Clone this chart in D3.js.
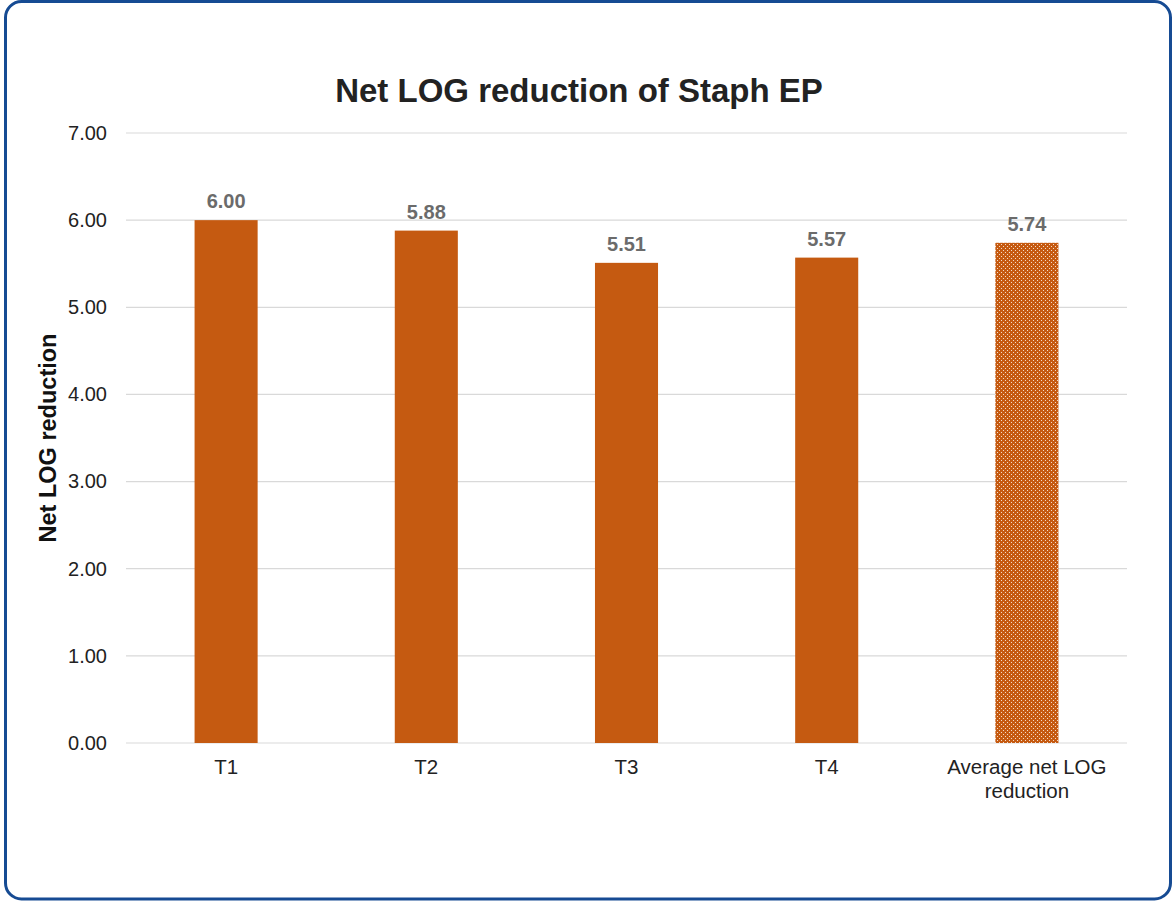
<!DOCTYPE html>
<html>
<head>
<meta charset="utf-8">
<script src="https://cdn.jsdelivr.net/npm/d3@7"></script>
<style>
  html, body { margin: 0; padding: 0; background: #fff; }
  svg { display: block; font-family: "Liberation Sans", Arial, sans-serif; }
</style>
</head>
<body>
<svg id="chart" width="1173" height="902"></svg>
<script>
// Net LOG reduction per test, plus the average
const categories = ["T1", "T2", "T3", "T4", "Average net LOG reduction"];
const values = [6.00, 5.88, 5.51, 5.57, 5.74];
const yTicks = [0, 1, 2, 3, 4, 5, 6, 7];

const svg = d3.select("#chart");
const W = 1173, H = 902;
const margin = { left: 126, right: 46, top: 133, bottom: 159 };
const plotW = W - margin.left - margin.right;
const plotH = H - margin.top - margin.bottom;

// Frame
svg.append("rect")
  .attr("x", 5.5).attr("y", 1.5)
  .attr("width", W - 8).attr("height", H - 4.5)
  .attr("rx", 16).attr("ry", 16)
  .attr("fill", "#fff")
  .attr("stroke", "#164B93").attr("stroke-width", 3);

// Dotted fill for the average bar
const defs = svg.append("defs");
const pat = defs.append("pattern")
  .attr("id", "dots").attr("patternUnits", "userSpaceOnUse")
  .attr("width", 4).attr("height", 4);
pat.append("rect").attr("width", 4).attr("height", 4).attr("fill", "#C55A11");
pat.append("rect").attr("x", 1).attr("y", 1).attr("width", 1).attr("height", 1).attr("fill", "#F4DCC8");
pat.append("rect").attr("x", 3).attr("y", 3).attr("width", 1).attr("height", 1).attr("fill", "#F4DCC8");

const g = svg.append("g").attr("transform", `translate(${margin.left},${margin.top})`);

const x = d3.scaleBand().domain(categories).range([0, plotW]).paddingInner(0.685).paddingOuter(0.3425);
const y = d3.scaleLinear().domain([0, 7]).range([plotH, 0]);

// Gridlines
g.selectAll(".grid").data(yTicks).join("line")
  .attr("x1", 0).attr("x2", plotW)
  .attr("y1", d => y(d)).attr("y2", d => y(d))
  .attr("stroke", "#D9D9D9").attr("stroke-width", 1.2);

// Y axis labels
const yAxis = g.append("g").call(d3.axisLeft(y).tickValues(yTicks).tickFormat(d3.format(".2f")).tickSize(0).tickPadding(19));
yAxis.select(".domain").remove();
yAxis.selectAll("text").attr("font-size", 20).attr("fill", "#222").attr("font-family", "Liberation Sans, Arial, sans-serif");

// Bars
g.selectAll(".bar").data(values).join("rect")
  .attr("x", (d, i) => x(categories[i]))
  .attr("y", d => y(d))
  .attr("width", x.bandwidth())
  .attr("height", d => plotH - y(d))
  .attr("fill", (d, i) => i === categories.length - 1 ? "url(#dots)" : "#C55A11");

// Value labels
g.selectAll(".val").data(values).join("text")
  .attr("x", (d, i) => x(categories[i]) + x.bandwidth() / 2)
  .attr("y", d => y(d) - 12)
  .attr("text-anchor", "middle")
  .attr("font-size", 20).attr("font-weight", "bold").attr("fill", "#6B6B6B")
  .text(d => d3.format(".2f")(d));

// X axis category labels (wrapped)
const xLabels = {
  "T1": ["T1"], "T2": ["T2"], "T3": ["T3"], "T4": ["T4"],
  "Average net LOG reduction": ["Average net LOG", "reduction"]
};
categories.forEach(c => {
  const t = g.append("text")
    .attr("x", x(c) + x.bandwidth() / 2)
    .attr("y", plotH + 31)
    .attr("text-anchor", "middle")
    .attr("font-size", 20.5).attr("fill", "#222");
  xLabels[c].forEach((line, k) => {
    t.append("tspan").attr("x", x(c) + x.bandwidth() / 2).attr("dy", k === 0 ? 0 : 24).text(line);
  });
});

// Axis title
svg.append("text")
  .attr("transform", `translate(56,438) rotate(-90)`)
  .attr("text-anchor", "middle")
  .attr("font-size", 23.5).attr("font-weight", "bold").attr("fill", "#111")
  .text("Net LOG reduction");

// Chart title
svg.append("text")
  .attr("x", 579).attr("y", 102)
  .attr("text-anchor", "middle")
  .attr("font-size", 33).attr("font-weight", "bold").attr("fill", "#222")
  .text("Net LOG reduction of Staph EP");
</script>
</body>
</html>
